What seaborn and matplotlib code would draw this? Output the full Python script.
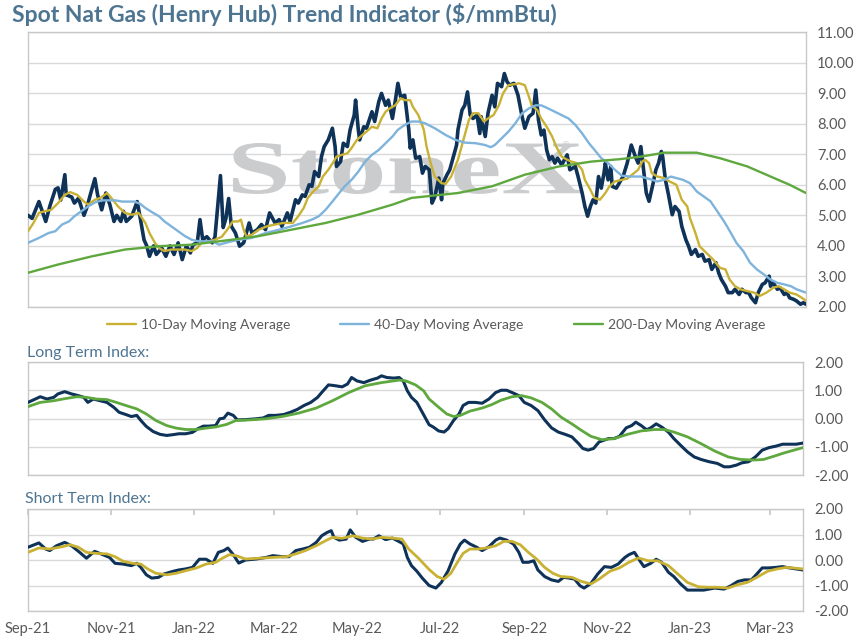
import pandas as pd
import numpy as np
import matplotlib
matplotlib.use('Agg')
import matplotlib.pyplot as plt
import matplotlib.dates as mdates
from matplotlib.ticker import FormatStrFormatter
from matplotlib.textpath import TextPath
from matplotlib.patches import PathPatch
from matplotlib.font_manager import FontProperties
from matplotlib.transforms import Affine2D
import seaborn as sns

# DATA, day = days since 2021-09-01
START = pd.Timestamp('2021-09-01')

spot_day = [0, 3, 8, 13, 16, 20, 22, 24, 27, 28, 32, 34, 37, 41, 43, 46, 49, 51, 54, 57,
            60, 63, 65, 68, 70, 72, 76, 80, 82, 85, 87, 89, 92, 94, 98, 101, 104, 107, 110, 113,
            116, 119, 121, 124, 126, 128, 131, 135, 137, 141, 143, 145, 147, 149, 152, 155, 158, 162, 164, 168,
            171, 174, 177, 181, 184, 186, 190, 192, 196, 198, 201, 203, 206, 208, 210, 213, 215, 217, 220, 223,
            225, 226, 229, 231, 234, 236, 239, 240, 242, 243, 246, 248, 252, 254, 257, 259, 262, 264, 267, 269,
            271, 273, 276, 279, 280, 282, 284, 287, 289, 291, 294, 296, 298, 301, 303, 304, 307, 309, 312, 314,
            315, 318, 320, 322, 324, 326, 329, 331, 332, 335, 337, 340, 342, 344, 347, 349, 351, 353, 356, 359,
            362, 364, 367, 370, 372, 374, 376, 378, 380, 382, 384, 386, 388, 391, 395, 397, 401, 403, 406, 408,
            410, 412, 414, 416, 418, 420, 422, 423, 425, 427, 428, 431, 436, 439, 442, 445, 447, 449, 451, 453,
            455, 458, 460, 462, 464, 465, 467, 469, 472, 474, 477, 479, 482, 484, 486, 489, 491, 494, 496, 499,
            501, 504, 506, 508, 511, 513, 516, 518, 521, 523, 526, 528, 530, 533, 535, 538, 540, 543, 544, 546,
            549, 551, 554, 556, 558, 561, 563, 566, 568, 570]
spot_val = [5.0, 4.9, 5.45, 4.8, 5.3, 5.85, 5.9, 5.5, 6.33, 5.67, 5.6, 5.4, 5.56, 5.0, 5.24, 5.73, 6.2, 5.67, 5.18, 5.73,
            5.35, 4.8, 5.0, 4.8, 5.13, 4.8, 4.97, 5.45, 4.97, 4.2, 4.0, 3.66, 4.0, 3.72, 3.93, 3.66, 4.0, 3.72, 4.1, 3.55,
            4.0, 3.77, 4.04, 4.1, 4.86, 4.2, 4.3, 4.1, 4.3, 6.3, 4.6, 4.9, 5.55, 4.64, 4.42, 3.99, 4.1, 4.75, 4.42, 4.53,
            4.7, 4.53, 5.08, 4.75, 4.86, 4.64, 5.08, 4.8, 5.51, 5.4, 5.67, 5.62, 6.0, 5.95, 6.43, 6.27, 6.92, 7.25, 7.47, 7.85,
            7.25, 6.6, 6.76, 7.36, 7.25, 7.8, 8.28, 8.77, 7.8, 7.47, 7.9, 7.85, 8.39, 8.07, 8.72, 8.99, 8.6, 8.77, 8.17, 8.72,
            9.32, 8.88, 8.93, 7.8, 7.2, 7.47, 6.87, 6.92, 6.38, 6.6, 6.49, 5.4, 5.6, 6.22, 5.51, 6.05, 6.33, 6.49, 6.98, 7.3,
            7.8, 8.45, 8.6, 9.04, 8.28, 8.17, 8.28, 7.68, 8.23, 7.58, 8.34, 8.93, 8.55, 9.32, 9.21, 9.64, 9.37, 9.26, 9.32, 8.93,
            8.23, 7.85, 8.23, 8.34, 9.1, 8.12, 7.63, 7.79, 7.14, 6.82, 6.92, 6.71, 6.87, 6.65, 6.98, 6.49, 6.6, 6.27, 5.73, 5.29,
            4.97, 5.29, 5.51, 5.4, 6.27, 5.89, 6.38, 6.71, 6.16, 6.6, 5.95, 5.89, 6.27, 6.71, 7.3, 6.92, 6.71, 7.25, 6.49, 5.73,
            5.46, 6.05, 6.49, 6.71, 7.09, 6.92, 6.16, 5.73, 5.02, 5.29, 5.13, 4.64, 4.2, 3.99, 3.72, 3.88, 3.66, 3.72, 3.5, 3.55,
            3.23, 3.45, 3.12, 2.9, 2.68, 2.47, 2.47, 2.58, 2.41, 2.58, 2.47, 2.47, 2.3, 2.14, 2.47, 2.74, 2.79, 3.01, 2.68, 2.79,
            2.58, 2.63, 2.41, 2.47, 2.3, 2.25, 2.2, 2.09, 2.14, 2.09]

ma10_day = [0, 4, 8, 12, 17, 22, 27, 31, 36, 41, 44, 49, 53, 58, 61, 66, 71, 76, 81, 86,
            89, 93, 96, 100, 105, 110, 115, 120, 124, 127, 132, 137, 142, 146, 150, 154, 156, 158, 160, 164,
            169, 175, 181, 187, 194, 198, 202, 205, 209, 213, 216, 220, 224, 226, 230, 234, 237, 241, 245, 248,
            252, 256, 259, 262, 265, 269, 273, 276, 280, 282, 286, 290, 292, 295, 298, 303, 306, 310, 315, 319,
            323, 326, 330, 334, 337, 341, 345, 348, 352, 356, 360, 364, 367, 369, 373, 376, 380, 384, 387, 391,
            395, 398, 402, 406, 408, 412, 415, 419, 423, 426, 430, 435, 439, 444, 447, 450, 452, 455, 457, 461,
            466, 470, 475, 479, 483, 485, 489, 492, 497, 502, 507, 511, 514, 518, 522, 527, 532, 536, 541, 546,
            550, 554, 558, 563, 567, 570]
ma10_val = [4.48, 4.75, 5.08, 5.13, 5.18, 5.4, 5.67, 5.76, 5.67, 5.45, 5.35, 5.51, 5.57, 5.73, 5.57, 5.29, 5.08, 5.02, 5.08, 4.75,
            4.42, 4.1, 3.93, 3.83, 3.88, 3.88, 3.88, 3.83, 3.93, 4.1, 4.15, 4.2, 4.3, 4.53, 4.8, 4.8, 4.86, 4.53, 4.3, 4.37,
            4.53, 4.64, 4.7, 4.75, 4.75, 4.97, 5.24, 5.57, 5.78, 5.95, 6.27, 6.49, 6.76, 6.92, 6.98, 7.03, 7.2, 7.47, 7.63, 7.74,
            7.9, 7.85, 8.17, 8.39, 8.5, 8.6, 8.83, 8.77, 8.77, 8.55, 8.28, 7.8, 7.25, 6.71, 6.27, 6.05, 6.03, 6.27, 6.82, 7.47,
            8.12, 8.34, 8.34, 8.07, 8.17, 8.28, 8.6, 8.99, 9.26, 9.29, 9.32, 9.26, 8.88, 8.6, 8.45, 8.17, 7.9, 7.58, 7.25, 6.92,
            6.82, 6.76, 6.71, 6.49, 6.16, 5.84, 5.57, 5.51, 5.73, 5.95, 6.11, 6.16, 6.2, 6.38, 6.49, 6.76, 6.82, 6.71, 6.38, 6.27,
            6.22, 6.11, 6.0, 5.51, 5.29, 4.91, 4.42, 3.99, 3.77, 3.55, 3.28, 3.23, 2.9, 2.68, 2.58, 2.52, 2.47, 2.36, 2.47, 2.63,
            2.68, 2.58, 2.47, 2.41, 2.3, 2.2]

ma40_day = [0, 8, 15, 20, 25, 30, 34, 39, 44, 49, 54, 64, 69, 78, 82, 86, 91, 96, 100, 105,
            110, 115, 120, 125, 135, 140, 149, 154, 164, 174, 184, 193, 201, 208, 213, 218, 223, 228, 232, 237,
            242, 247, 252, 257, 262, 267, 271, 276, 281, 286, 291, 298, 306, 313, 320, 328, 335, 339, 342, 347,
            352, 357, 362, 367, 372, 376, 381, 386, 391, 396, 401, 406, 411, 416, 420, 425, 430, 435, 441, 449,
            456, 461, 466, 471, 475, 480, 485, 490, 495, 500, 505, 510, 515, 519, 524, 529, 534, 539, 544, 549,
            554, 559, 563, 570]
ma40_val = [4.1, 4.26, 4.42, 4.48, 4.7, 4.8, 4.97, 5.13, 5.29, 5.42, 5.49, 5.49, 5.45, 5.45, 5.38, 5.24, 5.1, 4.97, 4.8, 4.64,
            4.48, 4.32, 4.2, 4.15, 4.15, 4.04, 4.15, 4.2, 4.26, 4.42, 4.53, 4.64, 4.75, 4.86, 4.97, 5.18, 5.45, 5.73, 5.95, 6.16,
            6.43, 6.76, 6.98, 7.14, 7.36, 7.58, 7.8, 7.96, 8.07, 8.07, 8.01, 7.85, 7.63, 7.47, 7.38, 7.36, 7.3, 7.23, 7.3, 7.52,
            7.74, 8.01, 8.34, 8.5, 8.6, 8.6, 8.5, 8.39, 8.28, 8.17, 7.96, 7.68, 7.36, 7.09, 6.87, 6.71, 6.49, 6.3, 6.27, 6.27,
            6.18, 6.11, 6.16, 6.27, 6.22, 6.16, 6.05, 5.78, 5.62, 5.46, 5.13, 4.8, 4.42, 4.1, 3.83, 3.45, 3.23, 3.07, 2.9, 2.79,
            2.74, 2.68, 2.58, 2.47]

ma200_day = [0, 22, 47, 71, 96, 120, 149, 169, 193, 218, 242, 267, 281, 298, 315, 340, 364, 389, 413, 434,
             449, 466, 490, 507, 527, 544, 558, 570]
ma200_val = [3.12, 3.39, 3.66, 3.88, 3.99, 4.04, 4.2, 4.32, 4.53, 4.75, 5.02, 5.35, 5.57, 5.65, 5.73, 5.95, 6.33, 6.6, 6.76, 6.84,
             6.92, 7.05, 7.05, 6.87, 6.6, 6.27, 6.0, 5.73]

long_idx_day = [0, 9, 14, 19, 22, 27, 32, 37, 41, 44, 48, 53, 58, 63, 67, 72, 76, 80, 83, 87,
                92, 97, 102, 107, 111, 116, 121, 125, 129, 133, 138, 141, 144, 147, 151, 154, 160, 168, 173, 177,
                182, 188, 193, 198, 203, 208, 213, 216, 221, 226, 231, 235, 238, 242, 247, 252, 257, 260, 264, 269,
                273, 276, 279, 282, 286, 290, 295, 298, 302, 306, 309, 313, 317, 320, 324, 329, 334, 339, 344, 348,
                352, 356, 361, 365, 370, 375, 380, 385, 390, 395, 400, 405, 408, 412, 416, 420, 427, 431, 435, 440,
                444, 447, 451, 455, 458, 462, 466, 471, 475, 480, 485, 490, 495, 501, 507, 512, 516, 521, 525, 530,
                535, 540, 545, 550, 555, 560, 565, 570]
long_idx_val = [0.57, 0.77, 0.69, 0.75, 0.87, 0.95, 0.87, 0.81, 0.75, 0.57, 0.69, 0.63, 0.57, 0.4, 0.22, 0.14, 0.07, 0.11, -0.07, -0.28,
                -0.46, -0.56, -0.6, -0.57, -0.54, -0.54, -0.49, -0.36, -0.27, -0.27, -0.25, -0.01, 0.01, 0.19, 0.11, -0.05, -0.04, -0.01, 0.02, 0.11,
                0.11, 0.14, 0.22, 0.32, 0.46, 0.57, 0.75, 0.92, 1.19, 1.16, 1.12, 1.22, 1.45, 1.33, 1.27, 1.36, 1.43, 1.51, 1.45, 1.43,
                1.45, 1.33, 0.98, 0.75, 0.57, 0.22, -0.22, -0.3, -0.44, -0.48, -0.36, -0.07, 0.16, 0.46, 0.57, 0.57, 0.54, 0.69, 0.92, 1.0,
                1.0, 0.92, 0.81, 0.57, 0.46, 0.28, -0.05, -0.33, -0.48, -0.56, -0.65, -0.89, -1.06, -1.12, -1.06, -0.83, -0.71, -0.71, -0.63, -0.33,
                -0.25, -0.13, -0.25, -0.4, -0.33, -0.19, -0.3, -0.48, -0.71, -0.95, -1.18, -1.36, -1.45, -1.53, -1.59, -1.71, -1.71, -1.65, -1.57, -1.53,
                -1.36, -1.12, -1.03, -0.98, -0.91, -0.91, -0.91, -0.87]

long_sig_day = [0, 9, 19, 28, 36, 43, 50, 58, 65, 72, 80, 87, 94, 102, 109, 116, 124, 131, 138, 146,
                153, 163, 175, 187, 199, 212, 224, 236, 248, 260, 273, 278, 285, 291, 295, 302, 308, 313, 318, 325,
                334, 341, 348, 356, 363, 370, 378, 385, 392, 400, 407, 414, 422, 431, 441, 451, 461, 468, 475, 485,
                495, 505, 515, 524, 534, 541, 549, 556, 570]
long_sig_val = [0.42, 0.57, 0.63, 0.71, 0.77, 0.75, 0.69, 0.67, 0.57, 0.46, 0.34, 0.16, -0.07, -0.25, -0.34, -0.39, -0.39, -0.34, -0.3, -0.21,
                -0.07, -0.05, -0.01, 0.07, 0.19, 0.37, 0.63, 0.92, 1.16, 1.27, 1.36, 1.33, 1.19, 0.98, 0.69, 0.4, 0.16, 0.07, 0.11, 0.26,
                0.37, 0.49, 0.65, 0.77, 0.81, 0.73, 0.57, 0.34, 0.05, -0.19, -0.42, -0.63, -0.75, -0.71, -0.56, -0.44, -0.39, -0.39, -0.48, -0.65,
                -0.89, -1.15, -1.36, -1.45, -1.47, -1.45, -1.33, -1.22, -1.03]

short_idx_day = [0, 8, 13, 16, 21, 27, 32, 38, 43, 49, 55, 60, 64, 70, 76, 80, 83, 87, 91, 96,
                 100, 107, 111, 116, 121, 126, 131, 136, 140, 144, 147, 151, 155, 160, 168, 175, 180, 187, 192, 197,
                 202, 207, 212, 216, 220, 223, 225, 229, 234, 237, 241, 246, 251, 254, 258, 263, 268, 273, 276, 279,
                 282, 286, 290, 295, 300, 304, 309, 314, 318, 321, 325, 330, 334, 339, 344, 347, 352, 357, 361, 364,
                 368, 372, 375, 380, 385, 390, 394, 398, 402, 406, 409, 414, 419, 424, 429, 434, 439, 442, 446, 450,
                 453, 458, 462, 466, 471, 475, 480, 485, 490, 497, 505, 512, 517, 522, 527, 532, 535, 540, 545, 550,
                 555, 560, 565, 570]
short_idx_val = [0.5, 0.67, 0.43, 0.37, 0.56, 0.69, 0.56, 0.3, 0.07, 0.34, 0.21, 0.1, -0.13, -0.16, -0.22, -0.13, -0.29, -0.58, -0.71, -0.68,
                 -0.55, -0.44, -0.39, -0.35, -0.29, 0.03, 0.03, -0.13, 0.3, 0.37, 0.47, 0.21, -0.12, 0.0, 0.04, 0.1, 0.17, 0.13, 0.13, 0.37,
                 0.43, 0.5, 0.69, 0.95, 1.08, 1.15, 0.89, 0.78, 0.82, 1.18, 0.89, 0.73, 0.82, 0.82, 0.95, 0.8, 0.86, 0.72, 0.63, 0.1,
                 -0.22, -0.44, -0.71, -1.0, -1.1, -0.88, -0.42, 0.24, 0.63, 0.78, 0.63, 0.5, 0.37, 0.52, 0.78, 0.86, 0.78, 0.63, 0.3, -0.09,
                 -0.09, -0.03, -0.39, -0.65, -0.78, -0.84, -0.68, -0.71, -0.75, -1.01, -1.1, -0.92, -0.55, -0.26, -0.29, -0.16, 0.1, 0.21, 0.3, -0.03,
                 -0.26, -0.13, 0.03, -0.09, -0.48, -0.65, -0.94, -1.18, -1.18, -1.18, -1.1, -1.14, -1.01, -0.84, -0.78, -0.78, -0.61, -0.31, -0.31, -0.29,
                 -0.26, -0.31, -0.35, -0.39]

short_sig_day = [0, 8, 16, 25, 31, 37, 43, 50, 58, 64, 70, 77, 83, 88, 94, 102, 109, 116, 124, 131,
                 138, 143, 148, 153, 160, 170, 180, 190, 197, 204, 212, 219, 224, 231, 239, 246, 253, 260, 268, 275,
                 280, 287, 295, 301, 306, 311, 315, 320, 325, 331, 337, 344, 350, 356, 362, 368, 374, 380, 386, 392,
                 400, 407, 414, 420, 428, 435, 442, 449, 456, 463, 471, 478, 485, 493, 500, 507, 515, 522, 529, 536,
                 544, 551, 558, 570]
short_sig_val = [0.3, 0.47, 0.43, 0.52, 0.6, 0.5, 0.3, 0.26, 0.24, 0.13, -0.05, -0.13, -0.16, -0.35, -0.52, -0.58, -0.52, -0.42, -0.31, -0.16,
                 -0.09, 0.07, 0.21, 0.17, 0.04, 0.07, 0.1, 0.13, 0.24, 0.37, 0.56, 0.76, 0.89, 0.85, 0.95, 0.86, 0.82, 0.89, 0.86, 0.82,
                 0.43, 0.08, -0.37, -0.65, -0.75, -0.52, -0.16, 0.26, 0.43, 0.43, 0.47, 0.56, 0.73, 0.73, 0.6, 0.3, 0.04, -0.29, -0.52, -0.65,
                 -0.68, -0.84, -0.94, -0.75, -0.44, -0.31, -0.09, 0.08, -0.03, -0.03, -0.22, -0.55, -0.88, -1.05, -1.07, -1.07, -1.1, -0.97, -0.88, -0.68,
                 -0.44, -0.35, -0.29, -0.35]

legend_labels = ['10-Day Moving Average', '40-Day Moving Average', '200-Day Moving Average']
price_ticks = [2, 3, 4, 5, 6, 7, 8, 9, 10, 11]
index_ticks = [-2, -1, 0, 1, 2]

NAVY = '#0e3258'
GOLD = '#c9b133'
LBLUE = '#7eb3dc'
GREEN = '#5ea83e'
TITLE_C = '#4d7592'
TEXT_C = '#595959'


def to_dates(days):
    return START + pd.to_timedelta(days, unit='D')


sns.set_theme(style='white')
plt.rcParams['font.family'] = ['Lato', 'DejaVu Sans']

fig = plt.figure(figsize=(8.6, 6.42), dpi=100)
W, H = 860, 642
ax_top = fig.add_axes([28 / W, 1 - 307 / H, 778 / W, 275 / H])
ax_long = fig.add_axes([28 / W, 1 - 475 / H, 775 / W, 113 / H])
ax_short = fig.add_axes([28 / W, 1 - 611 / H, 775 / W, 102 / H])

# top panel: spot and moving averages
sns.lineplot(x=to_dates(spot_day), y=spot_val, ax=ax_top, color=NAVY, linewidth=2.6, zorder=3)
sns.lineplot(x=to_dates(ma10_day), y=ma10_val, ax=ax_top, color=GOLD, linewidth=1.7, zorder=4)
sns.lineplot(x=to_dates(ma40_day), y=ma40_val, ax=ax_top, color=LBLUE, linewidth=1.7, zorder=4)
sns.lineplot(x=to_dates(ma200_day), y=ma200_val, ax=ax_top, color=GREEN, linewidth=1.7, zorder=4)

# index panels
sns.lineplot(x=to_dates(long_idx_day), y=long_idx_val, ax=ax_long, color=NAVY, linewidth=2.2, zorder=3)
sns.lineplot(x=to_dates(long_sig_day), y=long_sig_val, ax=ax_long, color=GREEN, linewidth=2.0, zorder=4)
sns.lineplot(x=to_dates(short_idx_day), y=short_idx_val, ax=ax_short, color=NAVY, linewidth=2.2, zorder=3)
sns.lineplot(x=to_dates(short_sig_day), y=short_sig_val, ax=ax_short, color=GOLD, linewidth=2.0, zorder=4)

x_end = START + pd.Timedelta(days=570)
for ax in (ax_top, ax_long, ax_short):
    ax.set_xlim(START, x_end)
    ax.set_xlabel('')
    ax.set_ylabel('')
    ax.set_axisbelow(True)
    ax.yaxis.grid(True, color='#d9d9d9', linewidth=1)
    ax.xaxis.grid(False)
    for sp in ax.spines.values():
        sp.set_visible(True)
        sp.set_color('#c8c8c8')
        sp.set_linewidth(1)
    ax.yaxis.tick_right()
    ax.yaxis.set_major_formatter(FormatStrFormatter('%.2f'))
    ax.tick_params(axis='y', length=0, pad=8, labelsize=10.5, labelcolor=TEXT_C)
    ax.xaxis.set_major_locator(mdates.MonthLocator(bymonth=[1, 3, 5, 7, 9, 11]))
    ax.xaxis.set_major_formatter(mdates.DateFormatter('%b-%y'))

ax_top.set_ylim(2, 11)
ax_top.set_yticks(price_ticks)
for ax in (ax_long, ax_short):
    ax.set_ylim(-2, 2)
    ax.set_yticks(index_ticks)

ax_top.tick_params(axis='x', length=0, labelbottom=False)
ax_long.tick_params(axis='x', length=0, labelbottom=False)
ax_short.tick_params(axis='x', bottom=False, top=True, direction='in', length=4,
                     color='#c8c8c8', labelbottom=True, labelsize=10.5, labelcolor=TEXT_C, pad=8)

# watermark
tp = TextPath((0, 0), 'StoneX', size=1, prop=FontProperties(family='Liberation Serif', weight='bold'))
ext = tp.get_extents()
wm_tr = (Affine2D().translate(-ext.x0, -ext.y0)
         .scale(350 / ext.width / W, 51 / ext.height / H)
         .translate(233 / W, (H - 194) / H) + fig.transFigure)
ax_top.add_artist(PathPatch(tp, transform=wm_tr, facecolor='#cbccce', edgecolor='none', zorder=1))
fig.text(566 / W, 1 - 147 / H, '\u00ae', fontsize=7, color='#cbccce', ha='center', va='center')

# legend
handles = ax_top.get_lines()[1:4]
fig.legend(handles, legend_labels, loc='center', bbox_to_anchor=(436 / W, 1 - 325 / H), ncol=3,
           frameon=False, fontsize=10, handlelength=2.1, handletextpad=0.35, columnspacing=3.6,
           labelcolor=TEXT_C)

fig.text(12 / W, 1 - 15 / H, 'Spot Nat Gas (Henry Hub) Trend Indicator ($/mmBtu)', fontsize=16.5,
         fontweight='bold', color=TITLE_C, va='center', ha='left')
fig.text(27 / W, 1 - 353 / H, 'Long Term Index:', fontsize=11.5, color=TITLE_C, va='center', ha='left')
fig.text(25 / W, 1 - 499 / H, 'Short Term Index:', fontsize=11.5, color=TITLE_C, va='center', ha='left')

fig.savefig('out.png', dpi=100)
